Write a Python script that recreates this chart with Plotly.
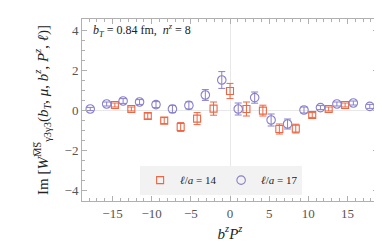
import plotly.graph_objects as go

# data: b^z P^z positions and Im W values
x14 = [-14.7, -12.6, -10.5, -8.4, -6.3, -4.2, -2.1, 0.0, 2.1, 4.2, 6.3, 8.4, 10.5, 12.6, 14.7]
y14 = [0.25, 0.05, -0.30, -0.53, -0.85, -0.43, 0.07, 0.95, 0.05, -0.03, -0.95, -0.93, -0.25, 0.05, 0.25]
e14 = [0.10, 0.10, 0.14, 0.15, 0.22, 0.30, 0.33, 0.38, 0.35, 0.27, 0.25, 0.22, 0.12, 0.10, 0.10]

x17 = [-17.85, -15.75, -13.65, -11.55, -9.45, -7.35, -5.25, -3.15, -1.05,
       1.05, 3.15, 5.25, 7.35, 9.45, 11.55, 13.65, 15.75, 17.85]
y17 = [0.05, 0.30, 0.45, 0.40, 0.27, 0.05, 0.23, 0.75, 1.50,
       0.05, 0.62, -0.50, -0.70, 0.00, 0.12, 0.30, 0.35, 0.18]
e17 = [0.08, 0.10, 0.12, 0.12, 0.15, 0.18, 0.18, 0.27, 0.42,
       0.30, 0.28, 0.30, 0.25, 0.15, 0.10, 0.10, 0.10, 0.10]

xticks = [-15, -10, -5, 0, 5, 10, 15]
yticks = [-4, -2, 0, 2, 4]

c14 = "#ee6644"
c17 = "#8a80cc"
serif = "Liberation Serif"

fig = go.Figure()
fig.add_trace(go.Scatter(
    x=x14, y=y14, mode="markers", name="<i>ℓ</i>/<i>a</i> = 14",
    marker=dict(symbol="square-open", size=7, color=c14, line=dict(width=1.1, color=c14)),
    error_y=dict(type="data", array=e14, color=c14, thickness=1, width=3.5),
))
fig.add_trace(go.Scatter(
    x=x17, y=y17, mode="markers", name="<i>ℓ</i>/<i>a</i> = 17",
    marker=dict(symbol="circle-open", size=8.5, color=c17, line=dict(width=1.1, color=c17)),
    error_y=dict(type="data", array=e17, color=c17, thickness=1, width=3.5),
))

axis_common = dict(
    showline=True, linecolor="#b0b0b0", linewidth=1, mirror="ticks",
    ticks="inside", ticklen=5, tickcolor="#b0b0b0", showgrid=False,
    zeroline=True, zerolinecolor="#e8e8e8", zerolinewidth=1,
    tickfont=dict(family=serif, size=13, color="#555555"),
)
fig.update_xaxes(
    range=[-18.9, 18.9], tickvals=xticks, **axis_common,
    minor=dict(ticks="inside", ticklen=3, dtick=1, tickcolor="#b0b0b0", showgrid=False),
    title=dict(text="<i>b<sup>z</sup>P<sup>z</sup></i>", font=dict(family=serif, size=15, color="#222222"), standoff=8),
)
fig.update_yaxes(
    range=[-4.55, 4.55], tickvals=yticks, **axis_common,
    minor=dict(ticks="inside", ticklen=3, dtick=0.5, tickcolor="#b0b0b0", showgrid=False),
    title=dict(text="Im [<i>W</i><sup>M̅S̅</sup><sub>γ3γ3</sub>(<i>b<sub>T</sub></i>, <i>μ</i>, <i>b<sup>z</sup></i>, <i>P<sup>z</sup></i>, <i>ℓ</i>)]",
               font=dict(family=serif, size=15, color="#222222"), standoff=12),
)
fig.add_annotation(
    xref="paper", yref="paper", x=0.03, y=0.935, xanchor="left", yanchor="middle",
    text="<i>b<sub>T</sub></i> = 0.84 fm,  <i>n<sup>z</sup></i> = 8",
    showarrow=False, font=dict(family=serif, size=12, color="#222222"),
)
fig.update_layout(
    width=382, height=243,
    margin=dict(l=74, r=12, t=11, b=50),
    plot_bgcolor="white", paper_bgcolor="white",
    showlegend=True,
    legend=dict(orientation="h", x=0.47, xanchor="center", y=0.035, yanchor="bottom",
                bgcolor="#f2f2f2", font=dict(family=serif, size=11, color="#222222"),
                itemwidth=30, tracegroupgap=0, entrywidth=36, entrywidthmode="pixels"),
)
fig.write_html("out.html")
